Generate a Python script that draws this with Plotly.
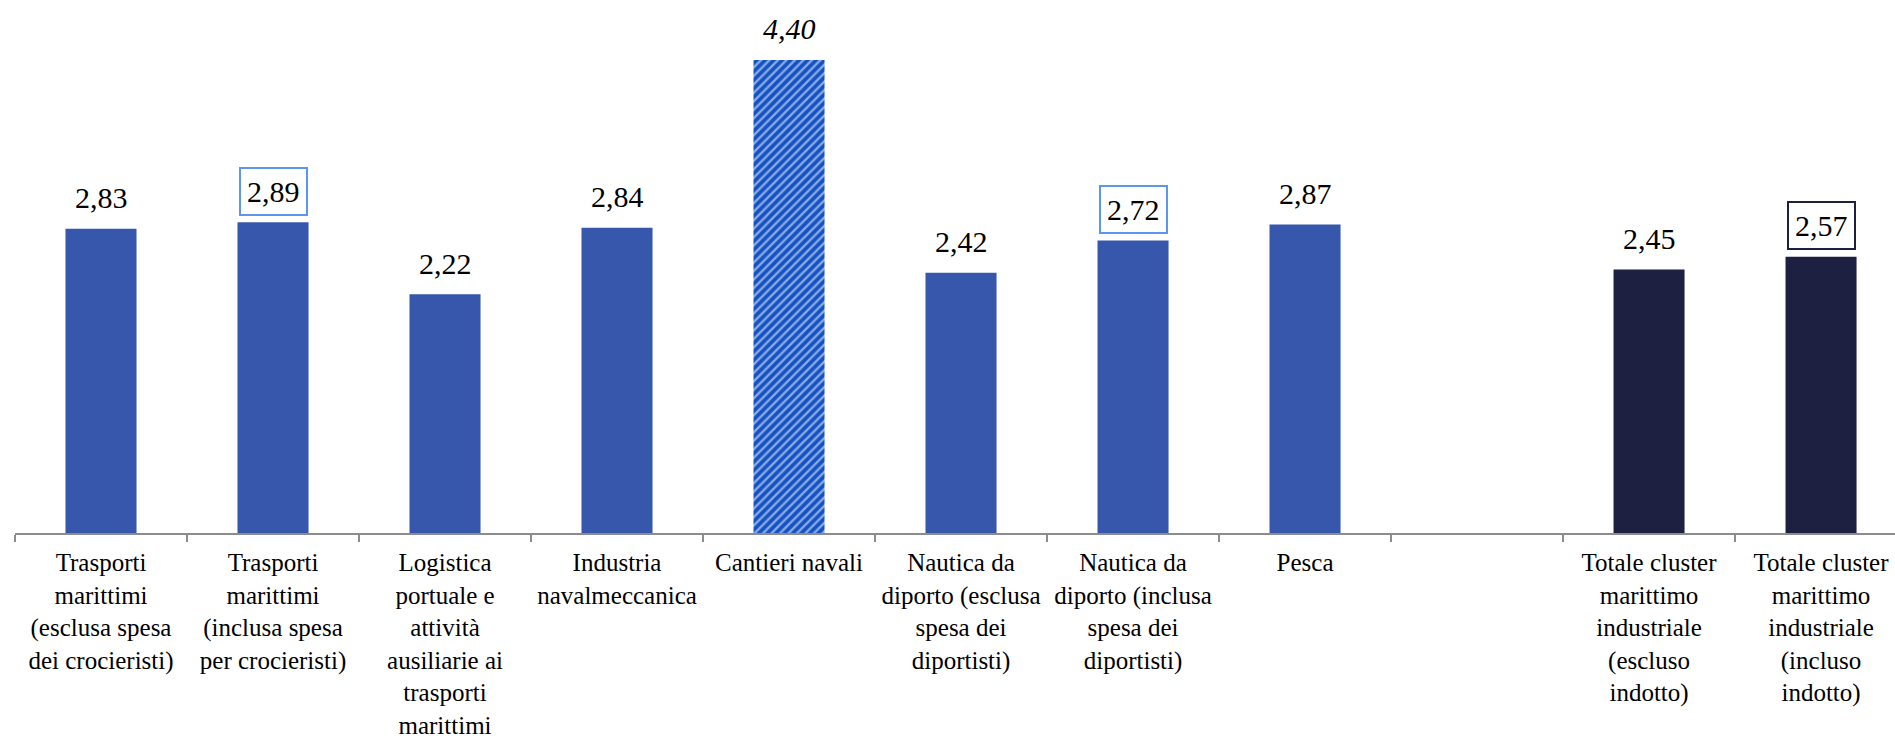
import plotly.graph_objects as go

categories = [
    "Trasporti<br>marittimi<br>(esclusa spesa<br>dei crocieristi)",
    "Trasporti<br>marittimi<br>(inclusa spesa<br>per crocieristi)",
    "Logistica<br>portuale e<br>attività<br>ausiliarie ai<br>trasporti<br>marittimi",
    "Industria<br>navalmeccanica",
    "Cantieri navali",
    "Nautica da<br>diporto (esclusa<br>spesa dei<br>diportisti)",
    "Nautica da<br>diporto (inclusa<br>spesa dei<br>diportisti)",
    "Pesca",
    " ",
    "Totale cluster<br>marittimo<br>industriale<br>(escluso<br>indotto)",
    "Totale cluster<br>marittimo<br>industriale<br>(incluso<br>indotto)",
]
values = [2.83, 2.89, 2.22, 2.84, 4.40, 2.42, 2.72, 2.87, None, 2.45, 2.57]

BLUE = "#3657ab"
NAVY = "#1e2042"
HATCH_BG = "#1452c4"
HATCH_FG = "#8a9ade"
BOX_BLUE = "#5b97f0"

bar_colors = [BLUE, BLUE, BLUE, BLUE, HATCH_BG, BLUE, BLUE, BLUE, BLUE, NAVY, NAVY]
pattern_shapes = ["", "", "", "", "/", "", "", "", "", "", ""]
boxed = [None, BOX_BLUE, None, None, None, None, BOX_BLUE, None, None, None, NAVY]
italic = [False, False, False, False, True, False, False, False, False, False, False]

fig = go.Figure()
fig.add_trace(go.Bar(
    x=categories,
    y=values,
    width=0.413,
    marker=dict(
        color=bar_colors,
        line=dict(width=0),
        pattern=dict(shape=pattern_shapes, fgcolor=HATCH_FG, size=6, solidity=0.4),
    ),
    hoverinfo="skip",
))

for cat, val, box, it in zip(categories, values, boxed, italic):
    if val is None:
        continue
    txt = f"{val:.2f}".replace(".", ",")
    if it:
        txt = f"<i>{txt}</i>"
    ann = dict(
        x=cat, y=val, xref="x", yref="y",
        text=txt, showarrow=False,
        yanchor="middle", yshift=31,
        font=dict(family="Liberation Serif", size=30, color="#000000"),
    )
    if box:
        ann.update(bordercolor=box, borderwidth=2, borderpad=6, bgcolor="#ffffff")
    fig.add_annotation(**ann)

fig.update_layout(
    width=1895, height=738,
    margin=dict(l=15, r=0, t=0, b=205),
    paper_bgcolor="#ffffff",
    plot_bgcolor="#ffffff",
    showlegend=False,
    bargap=0.5,
    font=dict(family="Liberation Serif", size=25, color="#000000"),
)
fig.update_xaxes(
    type="category",
    categoryorder="array", categoryarray=categories,
    range=[-0.5, 10.43],
    showline=True, linecolor="#8c8c8c", linewidth=2,
    ticks="outside", tickson="boundaries", ticklen=7, tickwidth=2, tickcolor="#8c8c8c",
    tickfont=dict(family="Liberation Serif", size=25, color="#000000"),
    ticklabelstandoff=6,
    automargin=False,
    tickangle=0,
    showgrid=False, zeroline=False,
)
fig.update_yaxes(
    range=[0, 4.958],
    visible=False, showgrid=False, zeroline=False,
    automargin=False,
)

fig.write_html("out.html")
